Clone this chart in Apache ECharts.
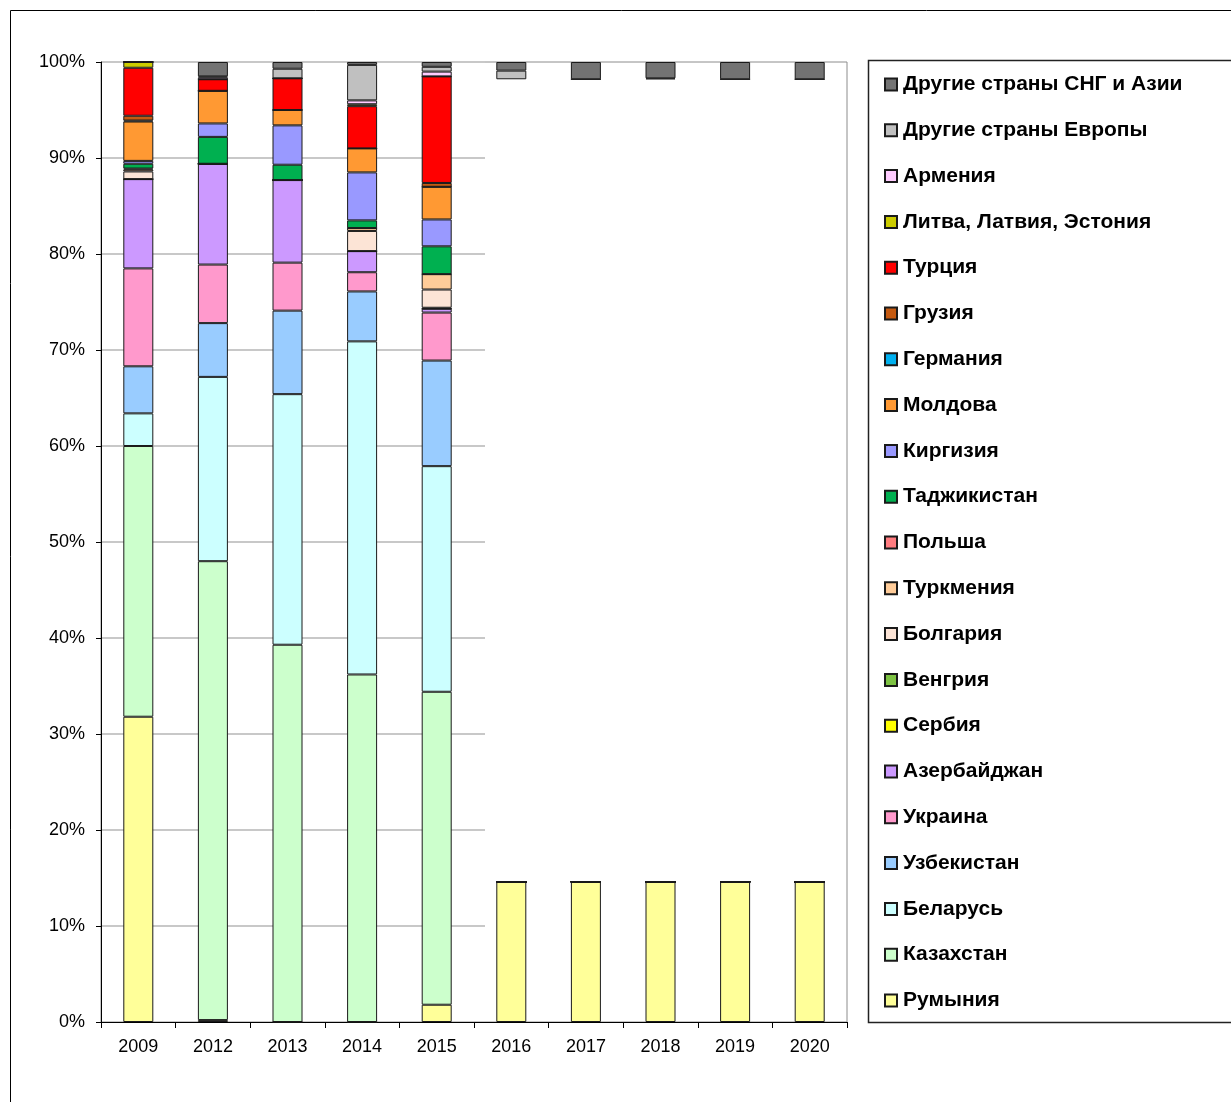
<!DOCTYPE html>
<html>
<head>
<meta charset="utf-8">
<script src="https://cdn.jsdelivr.net/npm/echarts@6/dist/echarts.min.js"></script>
<style>
  html, body { margin: 0; padding: 0; background: #fff; }
  #chart { width: 1231px; height: 1102px; }
</style>
</head>
<body>
<div id="chart"></div>
<script>
const years = ['2009', '2012', '2013', '2014', '2015', '2016', '2017', '2018', '2019', '2020'];

// stack order, bottom to top (shares, %)
const romania    = [31.8, 0.2, 0, 0, 1.8, 14.6, 14.6, 14.6, 14.6, 14.6];
const kazakhstan = [28.2, 47.8, 39.3, 36.2, 32.6, 0, 0, 0, 0, 0];
const belarus    = [3.4, 19.2, 26.1, 34.7, 23.5, 0, 0, 0, 0, 0];
const uzbekistan = [4.9, 5.6, 8.7, 5.2, 11.0, 0, 0, 0, 0, 0];
const ukraine    = [10.2, 6.1, 5.0, 2.0, 5.0, 0, 0, 0, 0, 0];
const azerbaijan = [9.3, 10.5, 8.6, 2.2, 0.4, 0, 0, 0, 0, 0];
const serbia     = [0, 0, 0, 0, 0, 0, 0, 0, 0, 0];
const hungary    = [0, 0, 0, 0, 0.1, 0, 0, 0, 0, 0];
const bulgaria   = [0.8, 0, 0, 2.1, 1.9, 0, 0, 0, 0, 0];
const turkmenia  = [0.2, 0, 0, 0.3, 1.6, 0, 0, 0, 0, 0];
const poland     = [0.1, 0, 0, 0, 0, 0, 0, 0, 0, 0];
const tajikistan = [0.5, 2.8, 1.6, 0.8, 2.9, 0, 0, 0, 0, 0];
const kirgizia   = [0.3, 1.4, 4.1, 5.0, 2.8, 0, 0, 0, 0, 0];
const moldova    = [4.1, 3.4, 1.6, 2.5, 3.4, 0, 0, 0, 0, 0];
const germany    = [0.1, 0, 0, 0, 0, 0, 0, 0, 0, 0];
const georgia    = [0.5, 0, 0, 0, 0.4, 0, 0, 0, 0, 0];
const turkey     = [5.0, 1.2, 3.3, 4.4, 11.1, 0, 0, 0, 0, 0];
const baltics    = [0.6, 0, 0, 0.2, 0, 0, 0, 0, 0, 0];
const armenia    = [0, 0.2, 0, 0.4, 0.5, 0, 0, 0, 0, 0];
const otherEurope = [0, 0.1, 1.0, 3.7, 0.5, 0.9, 0, 0.1, 0, 0];
const otherCisAsia = [0, 1.5, 0.7, 0.3, 0.5, 0.9, 1.8, 1.7, 1.8, 1.8];

const yTicks = [0, 10, 20, 30, 40, 50, 60, 70, 80, 90, 100];

const groups = [
  ['Румыния', romania, '#FFFF99'],
  ['Казахстан', kazakhstan, '#CCFFCC'],
  ['Беларусь', belarus, '#CCFFFF'],
  ['Узбекистан', uzbekistan, '#99CCFF'],
  ['Украина', ukraine, '#FF99CC'],
  ['Азербайджан', azerbaijan, '#CC99FF'],
  ['Сербия', serbia, '#FFFF00'],
  ['Венгрия', hungary, '#7DC242'],
  ['Болгария', bulgaria, '#FCE4D6'],
  ['Туркмения', turkmenia, '#FFCC99'],
  ['Польша', poland, '#FF7C80'],
  ['Таджикистан', tajikistan, '#00B050'],
  ['Киргизия', kirgizia, '#9999FF'],
  ['Молдова', moldova, '#FF9933'],
  ['Германия', germany, '#00B0F0'],
  ['Грузия', georgia, '#C55A11'],
  ['Турция', turkey, '#FF0000'],
  ['Литва, Латвия, Эстония', baltics, '#CCCC00'],
  ['Армения', armenia, '#FFCCFF'],
  ['Другие страны Европы', otherEurope, '#C0C0C0'],
  ['Другие страны СНГ и Азии', otherCisAsia, '#737373']
];

// empty space in the later years sits just under the two "other" groups
const filler = years.map((y, i) => {
  let s = 0;
  groups.forEach(g => { s += g[1][i]; });
  const rest = 100 - s;
  return rest > 1 ? +rest.toFixed(1) : 0;
});

const font = 'Liberation Sans, Arial, sans-serif';

let series = groups.map(g => ({
  name: g[0],
  type: 'bar',
  stack: 'total',
  barWidth: 30,
  data: g[1],
  itemStyle: { color: g[2], borderColor: '#1a1a1a', borderWidth: 1 }
}));
series.splice(groups.length - 2, 0, {
  name: 'gap',
  type: 'bar',
  stack: 'total',
  barWidth: 30,
  silent: true,
  data: filler,
  itemStyle: { color: 'rgba(0,0,0,0)', borderWidth: 0 }
});

const option = {
  backgroundColor: '#fff',
  animation: false,
  textStyle: { fontFamily: font },
  graphic: [
    { type: 'rect', shape: { x: 10.5, y: 10.5, width: 1240, height: 1100 },
      style: { fill: 'none', stroke: '#000', lineWidth: 1 }, z: -1 },
    { type: 'rect', shape: { x: 868.5, y: 60.5, width: 400, height: 962 },
      style: { fill: '#fff', stroke: '#222', lineWidth: 1.5 }, z: -1 }
  ],
  grid: [
    { left: 101, right: 384, top: 62, bottom: 80, show: true,
      borderColor: '#8c8c8c', borderWidth: 1, backgroundColor: 'transparent' },
    { left: 101, width: 384, top: 62, bottom: 80 }
  ],
  legend: {
    orient: 'vertical',
    left: 879,
    top: 69,
    itemWidth: 12,
    itemHeight: 12,
    itemGap: 24.8,
    icon: 'rect',
    data: groups.map(g => g[0]).reverse(),
    textStyle: { fontFamily: font, fontWeight: 'bold', fontSize: 21, color: '#000', padding: [0, 0, 0, 1] }
  },
  xAxis: [
    {
      type: 'category',
      data: years,
      gridIndex: 0,
      axisLine: { lineStyle: { color: '#000', width: 1 } },
      axisTick: { show: true, length: 6, lineStyle: { color: '#000' } },
      axisLabel: { color: '#000', fontSize: 18, margin: 16, fontFamily: font }
    },
    { type: 'category', data: years.slice(0, 5), gridIndex: 1, show: false }
  ],
  yAxis: [
    {
      type: 'value',
      gridIndex: 0,
      min: 0,
      max: 100,
      interval: 10,
      axisLine: { show: true, lineStyle: { color: '#000', width: 1 } },
      axisTick: { show: true, length: 5, lineStyle: { color: '#000' } },
      splitLine: { show: false },
      axisLabel: { color: '#000', fontSize: 18, margin: 16, fontFamily: font,
        formatter: v => yTicks.indexOf(v) >= 0 ? v + '%' : '' }
    },
    {
      type: 'value',
      gridIndex: 1,
      min: 0,
      max: 100,
      interval: 10,
      axisLine: { show: false },
      axisTick: { show: false },
      axisLabel: { show: false },
      splitLine: { show: true, lineStyle: { color: '#c8c8c8', width: 2 } }
    }
  ],
  series: series
};

const myChart = echarts.init(document.getElementById('chart'));
myChart.setOption(option);
window.addEventListener('resize', function () {
  myChart.resize();
});
</script>
</body>
</html>
